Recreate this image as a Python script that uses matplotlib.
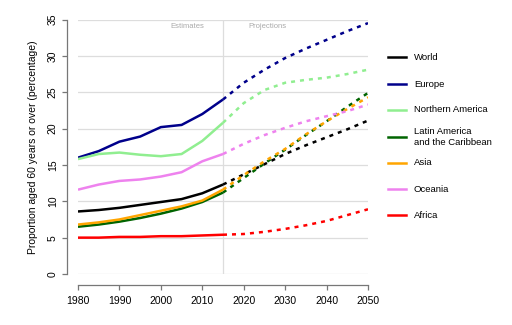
import numpy as np
import matplotlib
matplotlib.use("Agg")
matplotlib.rcParams.update({
    'font.family': ['Liberation Sans', 'DejaVu Sans'],
    'font.size': 7.5,
})
from matplotlib import pyplot as plt
from matplotlib.lines import Line2D

# estimates 1980-2015, projections 2015-2050 (5-year steps)
years_est = [1980, 1985, 1990, 1995, 2000, 2005, 2010, 2015]
years_proj = [2015, 2020, 2025, 2030, 2035, 2040, 2045, 2050]

regions = ['World', 'Europe', 'Northern America', 'Latin America\nand the Caribbean',
           'Asia', 'Oceania', 'Africa']
colors = ['black', '#00008B', '#90EE90', '#006400', '#FFA500', '#EE82EE', '#FF0000']

est = {
    'World':            [8.6, 8.8, 9.1, 9.5, 9.9, 10.3, 11.1, 12.3],
    'Europe':           [16.0, 16.9, 18.2, 18.9, 20.2, 20.5, 22.0, 24.0],
    'Northern America': [15.8, 16.5, 16.7, 16.4, 16.2, 16.5, 18.3, 20.8],
    'Latin America\nand the Caribbean': [6.5, 6.8, 7.2, 7.7, 8.3, 9.0, 9.9, 11.2],
    'Asia':             [6.8, 7.1, 7.5, 8.1, 8.7, 9.3, 10.1, 11.6],
    'Oceania':          [11.6, 12.3, 12.8, 13.0, 13.4, 14.0, 15.5, 16.5],
    'Africa':           [5.0, 5.0, 5.1, 5.1, 5.2, 5.2, 5.3, 5.4],
}
proj = {
    'World':            [12.3, 13.7, 15.1, 16.5, 17.7, 18.8, 19.9, 21.1],
    'Europe':           [24.0, 26.3, 28.1, 29.7, 31.0, 32.2, 33.4, 34.5],
    'Northern America': [20.8, 23.5, 25.3, 26.3, 26.7, 27.0, 27.5, 28.1],
    'Latin America\nand the Caribbean': [11.2, 13.2, 15.2, 17.1, 19.1, 21.0, 23.0, 24.9],
    'Asia':             [11.6, 13.6, 15.5, 17.2, 19.2, 21.0, 22.7, 24.3],
    'Oceania':          [16.5, 17.9, 19.1, 20.1, 21.0, 21.7, 22.4, 23.3],
    'Africa':           [5.4, 5.5, 5.8, 6.2, 6.7, 7.3, 8.1, 8.9],
}

W, H = 512, 325
fig = plt.figure(figsize=(W / 100, H / 100), dpi=100)
ax = fig.add_axes([78 / W, 1 - 274 / H, 290 / W, 254.5 / H])
ax.set_xlim(1980, 2050)
ax.set_ylim(0, 35)

grid_c = '#DDDDDD'
for yv in range(0, 36, 5):
    ax.axhline(yv, color=grid_c, lw=0.9, zorder=0)
ax.axvline(2015, color=grid_c, lw=0.9, zorder=0)

for name, c in zip(regions, colors):
    ax.plot(years_est, est[name], color=c, lw=1.8, solid_capstyle='butt', zorder=2)
    ax.plot(years_proj, proj[name], color=c, lw=1.8, ls=(0, (1.6, 2.0)), zorder=2)

ax.text(2006.3, 34.0, 'Estimates', color='#AAAAAA', fontsize=5.5, ha='center', va='center')
ax.text(2025.8, 34.0, 'Projections', color='#AAAAAA', fontsize=5.5, ha='center', va='center')

for side in ['top', 'right']:
    ax.spines[side].set_visible(False)
ax.spines['left'].set_position(('outward', 8))
ax.spines['bottom'].set_position(('outward', 8))
ax.spines['left'].set_bounds(0, 35)
ax.spines['bottom'].set_bounds(1980, 2050)
for side in ['left', 'bottom']:
    ax.spines[side].set_color('#777777')
    ax.spines[side].set_linewidth(0.9)
ax.set_xticks(range(1980, 2051, 10))
ax.set_yticks(range(0, 36, 5))
ax.set_yticklabels([str(v) for v in range(0, 36, 5)], rotation=90, va='center')
ax.tick_params(colors='#777777', labelcolor='black', length=3.6, width=0.9, pad=4)
ax.tick_params(axis='y', pad=3)
ax.set_ylabel('Proportion aged 60 years or over (percentage)', labelpad=7)

# legend drawn by hand
leg_y = [57, 84, 110, 137, 163, 189, 215]
for name, c, yp in zip(regions, colors, leg_y):
    fy = 1 - yp / H
    fig.add_artist(Line2D([388 / W, 406 / W], [fy, fy], color=c, lw=1.8,
                          transform=fig.transFigure))
    fig.text(414 / W, fy, name, ha='left', va='center', fontsize=6.8, linespacing=1.4)

fig.savefig('out.png', dpi=100)
